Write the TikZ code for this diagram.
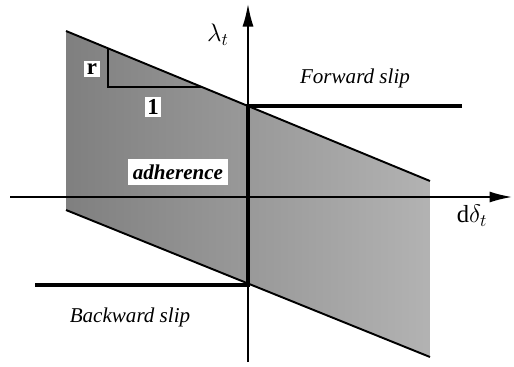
\documentclass[tikz,border=0pt]{standalone}
\usepackage{fontspec}
\setmainfont{Liberation Serif}
\usetikzlibrary{arrows.meta, positioning}
\tikzset{
  axis/.style={-{Latex[length=4.5mm,width=2.2mm]}, line width=0.9pt},
  bandedge/.style={line width=1.1pt},
  slipline/.style={line width=2.8pt, line join=miter},
  slopeline/.style={line width=0.8pt},
  region/.style={font=\itshape\fontsize{12}{14}\selectfont, inner sep=1pt},
  tag/.style={fill=white, inner sep=1.5pt, font=\bfseries\fontsize{13}{15}\selectfont},
  axislabel/.style={font=\fontsize{14}{16}\selectfont, inner sep=1pt}
}
\begin{document}
\begin{tikzpicture}[x=0.02cm, y=-0.02cm]
  \useasboundingbox (0,0) rectangle (514,366);

  % adherence band
  \coordinate (ul) at (66,31);
  \coordinate (ur) at (430,181);
  \coordinate (lr) at (430,357);
  \coordinate (ll) at (66,210);
  \shade[left color=black!50, right color=black!30] (ul) -- (ur) -- (lr) -- (ll) -- cycle;
  \draw[bandedge] (ul) -- (ur);
  \draw[bandedge] (ll) -- (lr);

  % axes
  \coordinate (xstart) at (10,197);
  \coordinate (xend) at (512,197);
  \coordinate (ystart) at (248,362);
  \coordinate (yend) at (248,4);
  \draw[axis] (xstart) -- (xend);
  \draw[axis] (ystart) -- (yend);
  \node[axislabel] (lam) at (218,35) {$\lambda_t$};
  \node[axislabel] (ddelta) at (472,216) {$\mathrm{d}\delta_t$};

  % slope triangle
  \coordinate (t1) at (108,48.3);
  \coordinate (t2) at (108,87);
  \coordinate (t3) at (202,87);
  \draw[slopeline] (t1) -- (t2) -- (t3);
  \node[tag] (rr) at (92,69) {r};
  \node[tag] (one) at (153,107) {1};

  % slip laws
  \coordinate (fwd) at (462,106);
  \coordinate (o1) at (248,106);
  \coordinate (o2) at (248,285);
  \coordinate (bwd) at (35,285);
  \draw[slipline] (fwd) -- (o1) -- (o2) -- (bwd);

  % regions
  \node[tag, font=\bfseries\itshape\fontsize{12}{14}\selectfont, inner xsep=3pt, inner ysep=3pt] (adh) at (178,172) {adherence};
  \node[region] (fslip) at (355,78) {Forward slip};
  \node[region] (bslip) at (130,317) {Backward slip};
\end{tikzpicture}
\end{document}
